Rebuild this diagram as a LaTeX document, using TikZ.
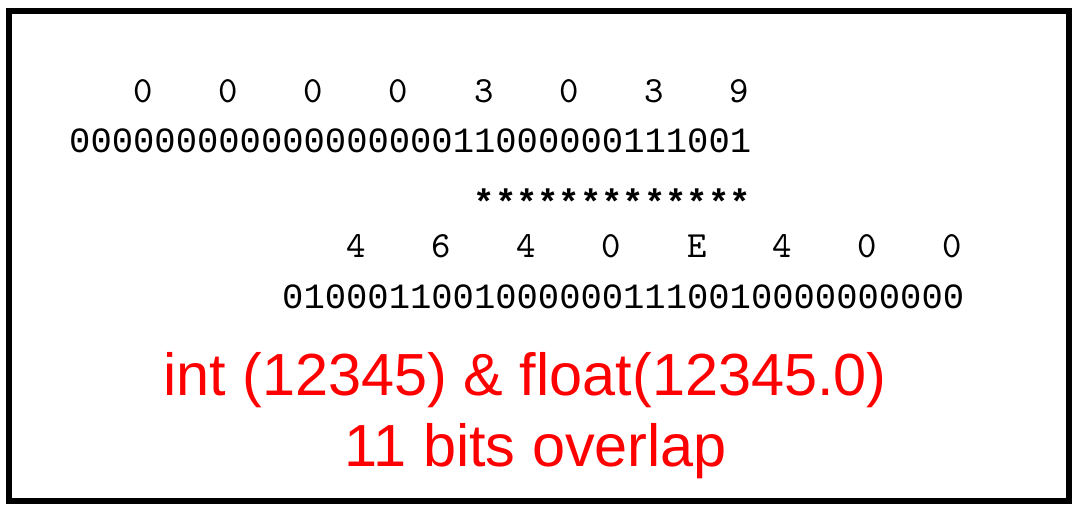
\documentclass[tikz,border=0pt]{standalone}
\usepackage{fontspec}
\newfontfamily\bitfont{Liberation Mono}
\newfontfamily\capfont{Liberation Sans}

\begin{document}
\begin{tikzpicture}[x=0.01cm, y=-0.01cm,
    bits/.style={inner sep=0pt, anchor=base west, font=\bitfont\fontsize{10.1pt}{12pt}\selectfont},
    hexdigit/.style={inner sep=0pt, anchor=base, font=\ttfamily\fontsize{10.5pt}{12pt}\selectfont},
    caption/.style={inner sep=0pt, anchor=base, text=red, font=\capfont\fontsize{16.9pt}{20pt}\selectfont}]

\useasboundingbox (0,0) rectangle (1080,514);

% Frame
\draw[line width=0.06cm] (9,11) rectangle (1069,501);

% int 12345
\foreach \h [count=\i] in {0,0,0,0,3,0,3,9}
  \node[hexdigit] (inthex\i) at ({68.5+(4*\i-0.5)*21.3},102) {\h};
\node[bits] (intbits) at (68.5,152) {00000000000000000011000000111001};

% Overlapping bits
\node[bits, font=\bitfont\bfseries\fontsize{10.1pt}{12pt}\selectfont] (overlap) at (473,214) {*************};

% float 12345.0
\foreach \h [count=\i] in {4,6,4,0,E,4,0,0}
  \node[hexdigit] (floathex\i) at ({281.5+(4*\i-0.5)*21.3},257) {\h};
\node[bits] (floatbits) at (281.5,308) {01000110010000001110010000000000};

% Caption
\node[caption] (title) at (525,395) {int (12345) \& float(12345.0)};
\node[caption] (note) at (536,466) {11 bits overlap};

\end{tikzpicture}
\end{document}
